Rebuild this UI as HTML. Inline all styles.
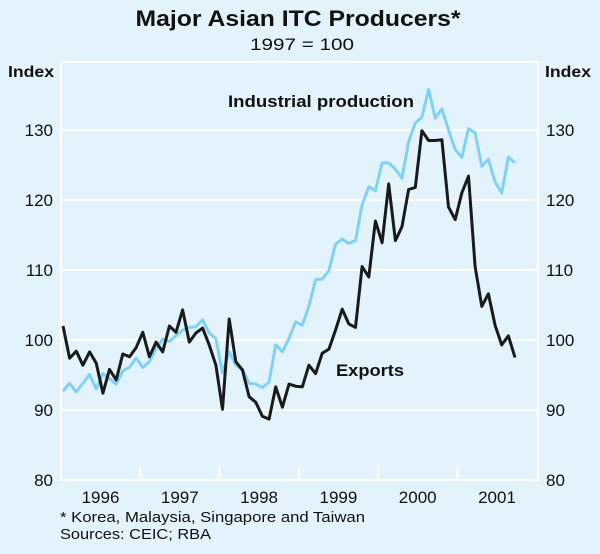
<!DOCTYPE html>
<html><head><meta charset="utf-8">
<style>
body{margin:0;background:#e3f3fc;font-family:"Liberation Sans",Arial,sans-serif;}
svg text{font-family:"Liberation Sans",Arial,sans-serif;fill:#111;}
</style></head>
<body>
<svg width="600" height="549" viewBox="0 0 600 549">
<rect x="0" y="0" width="600" height="549" fill="#e3f3fc"/>
<text x="298" y="26" text-anchor="middle" font-size="22" font-weight="bold" textLength="325" lengthAdjust="spacingAndGlyphs">Major Asian ITC Producers*</text>
<text x="302" y="50" text-anchor="middle" font-size="17" textLength="104" lengthAdjust="spacingAndGlyphs">1997 = 100</text>
<rect x="61" y="62" width="477" height="418" fill="none" stroke="#fff" stroke-width="2"/>
<g id="grid"></g>
<g id="yl"></g>
<g id="xl"></g>
<text x="8" y="77" font-size="16" font-weight="bold" textLength="46" lengthAdjust="spacingAndGlyphs">Index</text>
<text x="545" y="77" font-size="16" font-weight="bold" textLength="46" lengthAdjust="spacingAndGlyphs">Index</text>
<path id="ip" fill="none" stroke="#7fd2f5" stroke-width="3" stroke-linejoin="round"/>
<path id="ex" fill="none" stroke="#1a1a1a" stroke-width="3" stroke-linejoin="round"/>
<text x="228" y="107" font-size="17" font-weight="bold" textLength="186" lengthAdjust="spacingAndGlyphs">Industrial production</text>
<text x="336" y="376" font-size="17" font-weight="bold" textLength="68" lengthAdjust="spacingAndGlyphs">Exports</text>
<text x="60" y="522" font-size="15" textLength="305" lengthAdjust="spacingAndGlyphs">*  Korea, Malaysia, Singapore and Taiwan</text>
<text x="60" y="539" font-size="15" textLength="151" lengthAdjust="spacingAndGlyphs">Sources: CEIC; RBA</text>
</svg>
<script>
const yTicks=[80,90,100,110,120,130];
const years=["1996","1997","1998","1999","2000","2001"];
const exportsData=[102,97.4,98.4,96.4,98.3,96.7,92.4,95.8,94.3,98,97.6,98.9,101.1,97.6,99.7,98.3,102,101.1,104.3,99.7,101,101.7,99.3,96.4,90.1,103,96.9,95.7,91.9,91.1,89.1,88.7,93.3,90.4,93.7,93.4,93.3,96.4,95.2,98.1,98.7,101.4,104.4,102.3,101.8,110.5,109,117,113.9,122.3,114.2,116.2,121.5,121.8,129.9,128.5,128.5,128.6,119,117.2,121,123.4,110.5,104.8,106.6,102.1,99.3,100.6,97.5];
const ipData=[92.7,93.8,92.6,93.8,95.1,93,95.2,94.5,93.7,95.6,96.1,97.4,96.1,96.9,98.8,100.1,99.8,100.6,101.4,101.8,101.9,102.9,101,100.2,95.3,98.3,96.4,95.8,93.8,93.7,93.2,94,99.3,98.3,100.2,102.6,102.1,104.8,108.6,108.7,109.9,113.7,114.4,113.8,114.2,119.3,121.9,121.3,125.3,125.3,124.4,123.1,128.3,131,131.8,135.8,131.7,133,130,127.2,126.1,130.2,129.6,124.8,125.8,122.6,121,126.1,125.3];
const NS="http://www.w3.org/2000/svg";
function yS(v){return 480-(v-80)*7;}
function xS(i){return 63+i*452/68;}
function yearX(k){return 61+79.3*k;}
const grid=document.getElementById('grid'),yl=document.getElementById('yl'),xl=document.getElementById('xl');
yTicks.forEach(t=>{
 if(t>80){const l=document.createElementNS(NS,'line');
 l.setAttribute('x1',61);l.setAttribute('x2',538);l.setAttribute('y1',yS(t));l.setAttribute('y2',yS(t));
 l.setAttribute('stroke','#fff');l.setAttribute('stroke-width','2');
 
 
 grid.appendChild(l);}
 [[53,'end','left-tick-label'],[546,'start','right-tick-label']].forEach(([x,a,n])=>{
 const tx=document.createElementNS(NS,'text');tx.setAttribute('x',x);tx.setAttribute('y',yS(t)+6);
 tx.setAttribute('text-anchor',a);tx.setAttribute('font-size','17');tx.textContent=t;
 
 
 yl.appendChild(tx);});
});
years.forEach((y,k)=>{
 const tx=document.createElementNS(NS,'text');tx.setAttribute('x',yearX(k)+39.5);tx.setAttribute('y',503);
 tx.setAttribute('text-anchor','middle');tx.setAttribute('font-size','17');tx.textContent=y;
 
 
 xl.appendChild(tx);
});
for(let k=1;k<=5;k++){const x=yearX(k);const l=document.createElementNS(NS,'line');
 l.setAttribute('x1',x);l.setAttribute('x2',x);l.setAttribute('y1',480);l.setAttribute('y2',467);
 l.setAttribute('stroke','#fff');l.setAttribute('stroke-width','2');
 
 
 xl.appendChild(l);}
function path(d){return d.map((v,i)=>(i?'L':'M')+xS(i).toFixed(1)+' '+yS(v).toFixed(1)).join(' ');}
document.getElementById('ip').setAttribute('d',path(ipData));
document.getElementById('ex').setAttribute('d',path(exportsData));
</script>
</body></html>
